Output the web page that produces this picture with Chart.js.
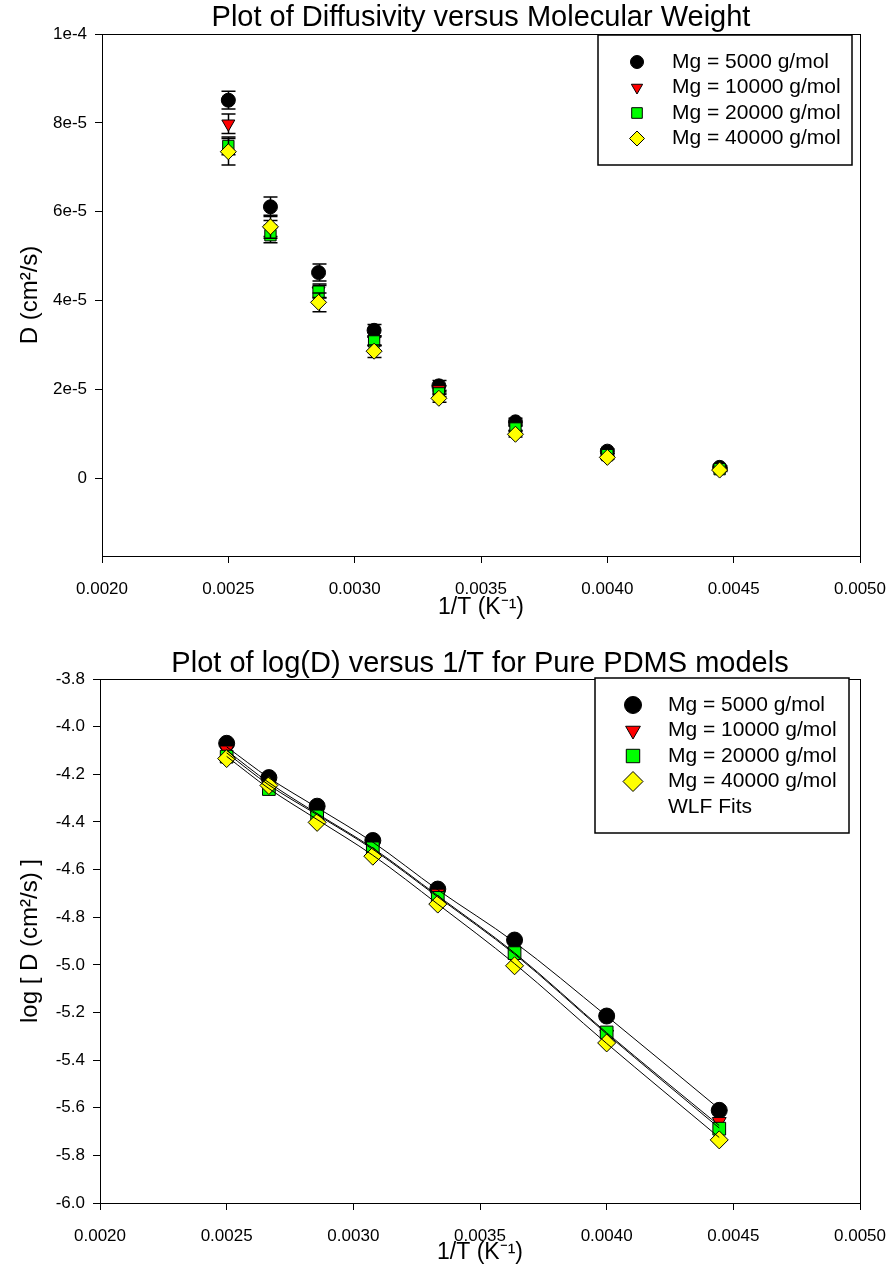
<!DOCTYPE html>
<html>
<head>
<meta charset="utf-8">
<title>Diffusivity of PDMS models</title>
<script src="https://cdn.jsdelivr.net/npm/chart.js@4.4.0/dist/chart.umd.min.js"></script>
<style>
  html, body { margin: 0; padding: 0; background: #ffffff; }
  .panel { position: absolute; left: 0; width: 888px; }
  #topPanel { top: 0; height: 640px; }
  #bottomPanel { top: 640px; height: 633px; }
  canvas { display: block; }
</style>
</head>
<body>
<div class="panel" id="topPanel"><canvas id="diffChart" width="888" height="640"></canvas></div>
<div class="panel" id="bottomPanel"><canvas id="logChart" width="888" height="633"></canvas></div>
<script>
// ---- data ----
const seriesNames = ['Mg = 5000 g/mol', 'Mg = 10000 g/mol', 'Mg = 20000 g/mol', 'Mg = 40000 g/mol'];
const fitName = 'WLF Fits';

// inverse temperature, 1/T (K^-1)
const invT = [0.0025, 0.0026667, 0.0028571, 0.0030769, 0.0033333, 0.0036364, 0.0040, 0.0044444];

// diffusivity D (cm^2/s)
const D_5000  = [8.51e-5, 6.11e-5, 4.63e-5, 3.33e-5, 2.08e-5, 1.27e-5, 0.61e-5, 0.245e-5];
const D_10000 = [7.98e-5, 5.62e-5, 4.22e-5, 3.10e-5, 2.00e-5, 1.14e-5, 0.51e-5, 0.22e-5];
const D_20000 = [7.48e-5, 5.47e-5, 4.20e-5, 3.08e-5, 1.91e-5, 1.12e-5, 0.52e-5, 0.205e-5];
const D_40000 = [7.35e-5, 5.66e-5, 3.96e-5, 2.86e-5, 1.80e-5, 0.99e-5, 0.47e-5, 0.184e-5];

// error bar half-widths on D
const errD_5000  = [0.20e-5, 0.22e-5, 0.19e-5, 0.13e-5, 0.12e-5, 0.08e-5, 0.05e-5, 0.03e-5];
const errD_10000 = [0.22e-5, 0.18e-5, 0.15e-5, 0.11e-5, 0.08e-5, 0.06e-5, 0.04e-5, 0.03e-5];
const errD_20000 = [0.20e-5, 0.17e-5, 0.14e-5, 0.10e-5, 0.07e-5, 0.05e-5, 0.04e-5, 0.03e-5];
const errD_40000 = [0.30e-5, 0.26e-5, 0.21e-5, 0.14e-5, 0.09e-5, 0.06e-5, 0.04e-5, 0.03e-5];

// log10 D
const logD_5000  = [-4.070, -4.214, -4.334, -4.478, -4.682, -4.896, -5.215, -5.611];
const logD_10000 = [-4.098, -4.250, -4.375, -4.509, -4.699, -4.943, -5.292, -5.658];
const logD_20000 = [-4.126, -4.262, -4.377, -4.511, -4.719, -4.951, -5.284, -5.688];
const logD_40000 = [-4.134, -4.247, -4.402, -4.544, -4.745, -5.004, -5.328, -5.735];

// WLF fit curves evaluated at the same 1/T values
const fit_5000  = [-4.085, -4.215, -4.340, -4.485, -4.685, -4.905, -5.215, -5.605];
const fit_10000 = [-4.100, -4.235, -4.365, -4.510, -4.710, -4.950, -5.285, -5.675];
const fit_20000 = [-4.110, -4.245, -4.370, -4.515, -4.715, -4.955, -5.290, -5.685];
const fit_40000 = [-4.125, -4.260, -4.390, -4.540, -4.745, -4.995, -5.330, -5.725];

// axis ticks
const xTickValues = [0.0020, 0.0025, 0.0030, 0.0035, 0.0040, 0.0045, 0.0050];
const xTickLabels = ['0.0020', '0.0025', '0.0030', '0.0035', '0.0040', '0.0045', '0.0050'];
const dTickValues = [0, 2e-5, 4e-5, 6e-5, 8e-5, 1e-4];
const dTickLabels = ['0', '2e-5', '4e-5', '6e-5', '8e-5', '1e-4'];
const logTickValues = [-6.0, -5.8, -5.6, -5.4, -5.2, -5.0, -4.8, -4.6, -4.4, -4.2, -4.0, -3.8];
const logTickLabels = ['-6.0', '-5.8', '-5.6', '-5.4', '-5.2', '-5.0', '-4.8', '-4.6', '-4.4', '-4.2', '-4.0', '-3.8'];

// ---- styling ----
const FONT = '"Liberation Sans", Arial, Helvetica, sans-serif';
Chart.defaults.font.family = FONT;
Chart.defaults.color = '#000000';

const markerStyles = [
  { pointStyle: 'circle',  color: '#000000', rotation: 0 },
  { pointStyle: 'triangle', color: '#ff0000', rotation: 180 },
  { pointStyle: 'rect',    color: '#00ff00', rotation: 0 },
  { pointStyle: 'rectRot', color: '#ffff00', rotation: 0 }
];

const toPoints = (xs, ys) => xs.map((x, i) => ({ x: x, y: ys[i] }));

// vertical error bars with caps, painted just before each series' markers
const errorBars = {
  id: 'errorBars',
  beforeDatasetDraw(chart, args) {
    const ds = chart.data.datasets[args.index];
    if (!ds.errors) return;
    const ctx = chart.ctx, xs = chart.scales.x, ys = chart.scales.y;
    const cap = 7;
    ctx.save();
    ctx.strokeStyle = '#000000';
    ctx.lineWidth = 1.5;
    ds.data.forEach((p, i) => {
      const e = ds.errors[i];
      const x = Math.round(xs.getPixelForValue(p.x)) + 0.5;
      const yTop = ys.getPixelForValue(p.y + e);
      const yBot = ys.getPixelForValue(p.y - e);
      ctx.beginPath();
      ctx.moveTo(x, yTop); ctx.lineTo(x, yBot);
      ctx.moveTo(x - cap, yTop); ctx.lineTo(x + cap, yTop);
      ctx.moveTo(x - cap, yBot); ctx.lineTo(x + cap, yBot);
      ctx.stroke();
    });
    ctx.restore();
  }
};

// plot frame, chart title and the boxed legend inside the plot
const frameTitleLegend = {
  id: 'frameTitleLegend',
  afterDraw(chart, args, opts) {
    const ctx = chart.ctx, a = chart.chartArea;
    ctx.save();
    ctx.strokeStyle = '#000000';
    ctx.lineWidth = 1;
    ctx.strokeRect(Math.round(a.left) + 0.5, Math.round(a.top) + 0.5,
                   Math.round(a.right - a.left), Math.round(a.bottom - a.top));

    ctx.fillStyle = '#000000';
    ctx.font = opts.titleSize + 'px ' + FONT;
    ctx.textAlign = 'center';
    ctx.textBaseline = 'middle';
    ctx.fillText(opts.title, (a.left + a.right) / 2, opts.titleY);

    const L = opts.legend;
    ctx.fillStyle = '#ffffff';
    ctx.fillRect(L.x, L.y, L.w, L.h);
    ctx.lineWidth = 1.5;
    ctx.strokeStyle = '#000000';
    ctx.strokeRect(L.x, L.y, L.w, L.h);
    ctx.font = L.fontSize + 'px ' + FONT;
    ctx.textAlign = 'left';
    ctx.textBaseline = 'middle';
    L.entries.forEach((entry, i) => {
      const y = L.firstRow + i * L.rowGap;
      if (entry.style) {
        ctx.fillStyle = entry.style.color;
        ctx.strokeStyle = '#000000';
        ctx.lineWidth = 1;
        Chart.helpers.drawPoint(ctx, {
          pointStyle: entry.style.pointStyle,
          rotation: entry.style.rotation,
          radius: entry.radius,
          borderWidth: 1
        }, L.symbolX, y);
      }
      ctx.fillStyle = '#000000';
      ctx.fillText(entry.label, L.textX, y);
    });
    ctx.restore();
  }
};

function xAxis(height) {
  return {
    type: 'linear',
    min: 0.002, max: 0.005,
    afterBuildTicks: s => { s.ticks = xTickValues.map(v => ({ value: v })); },
    afterFit: s => { s.height = height; s.paddingLeft = 0; s.paddingRight = 0; },
    ticks: {
      autoSkip: false, maxRotation: 0, padding: 16,
      font: { size: 17 },
      callback: (v, i) => xTickLabels[i]
    },
    grid: { display: true, drawOnChartArea: false, drawTicks: true, tickLength: 7, color: '#000000', lineWidth: 1 },
    border: { display: true, color: '#000000', width: 1 },
    title: { display: true, text: '1/T (K\u207B\u00B9)', font: { size: 23 }, padding: { top: 0, bottom: 0 } }
  };
}

function yAxis(min, max, values, labels, width, titleText) {
  return {
    type: 'linear',
    min: min, max: max,
    afterBuildTicks: s => { s.ticks = values.map(v => ({ value: v })); },
    afterFit: s => { s.width = width; s.paddingTop = 0; s.paddingBottom = 0; },
    ticks: {
      autoSkip: false, padding: 8,
      font: { size: 17 },
      callback: (v, i) => labels[i]
    },
    grid: { display: true, drawOnChartArea: false, drawTicks: true, tickLength: 7, color: '#000000', lineWidth: 1 },
    border: { display: true, color: '#000000', width: 1 },
    title: { display: true, text: titleText, font: { size: 24 }, padding: { top: 16, bottom: 0 } }
  };
}

function markerDataset(i, ys, radius, errors) {
  const st = markerStyles[i];
  const ds = {
    label: seriesNames[i],
    data: toPoints(invT, ys),
    showLine: false,
    pointStyle: st.pointStyle,
    rotation: st.rotation,
    pointRadius: radius[i],
    pointBackgroundColor: st.color,
    pointBorderColor: '#000000',
    pointBorderWidth: 1,
    order: 20 - i
  };
  if (errors) ds.errors = errors[i];
  return ds;
}

// ---- top: D versus 1/T ----
const dSeries = [D_5000, D_10000, D_20000, D_40000];
const dErrors = [errD_5000, errD_10000, errD_20000, errD_40000];
const topRadius = [7, 7.5, 8, 8];

new Chart(document.getElementById('diffChart'), {
  type: 'scatter',
  data: { datasets: dSeries.map((ys, i) => markerDataset(i, ys, topRadius, dErrors)) },
  options: {
    responsive: false,
    animation: false,
    layout: { padding: { left: 0, right: 28, top: 34, bottom: 19 } },
    scales: {
      x: xAxis(65),
      y: yAxis(-1.75e-5, 1e-4, dTickValues, dTickLabels, 102, 'D (cm\u00B2/s)')
    },
    plugins: {
      legend: { display: false },
      tooltip: { enabled: false },
      frameTitleLegend: {
        title: 'Plot of Diffusivity versus Molecular Weight',
        titleSize: 29, titleY: 18,
        legend: {
          x: 598, y: 35, w: 254, h: 130,
          symbolX: 637, textX: 672, firstRow: 62, rowGap: 25.5, fontSize: 21,
          entries: seriesNames.map((n, i) => ({ label: n, style: markerStyles[i], radius: [6.5, 6.5, 7.5, 7.5][i] }))
        }
      }
    }
  },
  plugins: [errorBars, frameTitleLegend]
});

// ---- bottom: log D versus 1/T with WLF fits ----
const logSeries = [logD_5000, logD_10000, logD_20000, logD_40000];
const fitSeries = [fit_5000, fit_10000, fit_20000, fit_40000];
const bottomRadius = [8, 8, 9, 9];

const fitDatasets = fitSeries.map((ys, i) => ({
  label: fitName,
  data: toPoints(invT, ys),
  showLine: true,
  borderColor: '#000000',
  borderWidth: 1,
  pointRadius: 0,
  cubicInterpolationMode: 'monotone',
  order: 4 - i
}));

new Chart(document.getElementById('logChart'), {
  type: 'scatter',
  data: { datasets: logSeries.map((ys, i) => markerDataset(i, ys, bottomRadius, null)).concat(fitDatasets) },
  options: {
    responsive: false,
    animation: false,
    layout: { padding: { left: 0, right: 28, top: 39, bottom: 7 } },
    scales: {
      x: xAxis(63),
      y: yAxis(-6.0, -3.8, logTickValues, logTickLabels, 100, 'log [ D (cm\u00B2/s) ]')
    },
    plugins: {
      legend: { display: false },
      tooltip: { enabled: false },
      frameTitleLegend: {
        title: 'Plot of log(D) versus 1/T for Pure PDMS models',
        titleSize: 29, titleY: 24,
        legend: {
          x: 595, y: 38, w: 254, h: 155,
          symbolX: 633, textX: 668, firstRow: 65, rowGap: 25.5, fontSize: 21,
          entries: seriesNames.map((n, i) => ({ label: n, style: markerStyles[i], radius: [8.5, 8.5, 9.5, 10][i] }))
                     .concat([{ label: fitName, style: null }])
        }
      }
    }
  },
  plugins: [frameTitleLegend]
});
</script>
</body>
</html>
